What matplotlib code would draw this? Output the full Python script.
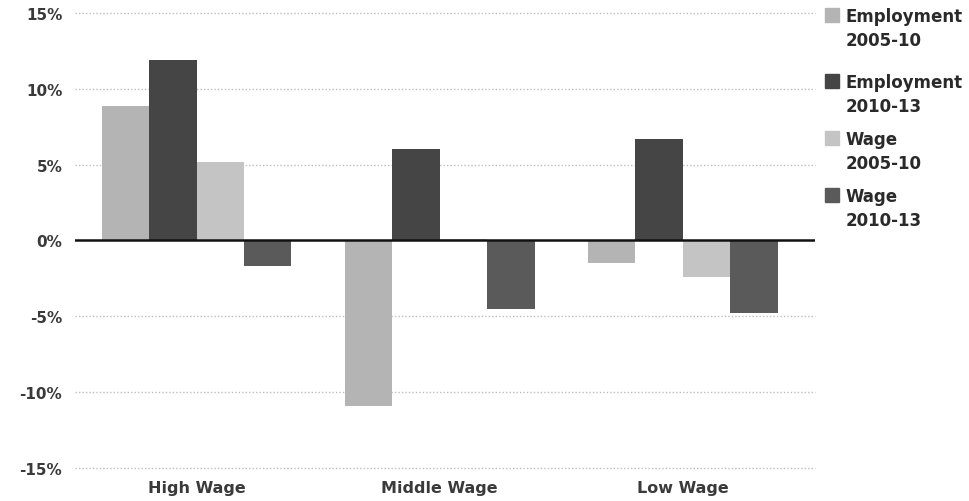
import matplotlib.pyplot as plt
from matplotlib.patches import Rectangle
import numpy as np

groups = ['High Wage', 'Middle Wage', 'Low Wage']
series = ['Employment\n2005-10', 'Employment\n2010-13', 'Wage\n2005-10', 'Wage\n2010-13']
emp_05_10 = [8.9, -10.9, -1.5]
emp_10_13 = [11.9, 6.0, 6.7]
wage_05_10 = [5.2, 0.1, -2.4]
wage_10_13 = [-1.7, -4.5, -4.8]
yticks = [15, 10, 5, 0, -5, -10, -15]

colors = ['#b4b4b4', '#454545', '#c4c4c4', '#5a5a5a']

fig = plt.figure(figsize=(9.7, 5.02), dpi=100)
ax = fig.add_axes([0.077, 0.066, 0.763, 0.906])

x = np.arange(len(groups))
w = 0.195
data = [emp_05_10, emp_10_13, wage_05_10, wage_10_13]
for i, vals in enumerate(data):
    ax.bar(x + (i - 1.5) * w, vals, w, color=colors[i], zorder=2)

ax.set_xlim(-0.502, 2.543)
ax.set_ylim(-15, 15)
ax.set_yticks(yticks)
ax.set_yticklabels([f'{t}%' for t in yticks])
for t in yticks:
    if t != 0:
        ax.axhline(t, color='#bdbdbd', lw=1.0, ls=(0, (1, 1.5)), zorder=1, clip_on=False)
ax.axhline(0, color='#111111', lw=1.8, zorder=3)

ax.set_xticks(x)
ax.set_xticklabels(groups)
ax.tick_params(axis='both', length=0, colors='#3a3a3a')
ax.tick_params(axis='x', pad=9, labelsize=11.5)
ax.tick_params(axis='y', pad=9, labelsize=11)
for lab in ax.get_xticklabels() + ax.get_yticklabels():
    lab.set_fontweight('bold')
for s in ax.spines.values():
    s.set_visible(False)

# legend drawn by hand: swatch aligned with the first text line
tops = [9, 75, 132, 189]
for i, lab in enumerate(series):
    y0 = 1 - tops[i] / 502
    fig.patches.append(Rectangle((825 / 970, y0 - 14 / 502), 14 / 970, 14 / 502,
                                 transform=fig.transFigure, color=colors[i]))
    fig.text(846 / 970, y0 + 1 / 502, lab, ha='left', va='top', fontsize=12,
             fontweight='bold', color='#2a2a2a', linespacing=1.45)

fig.savefig('out.png', dpi=100, facecolor='white')
